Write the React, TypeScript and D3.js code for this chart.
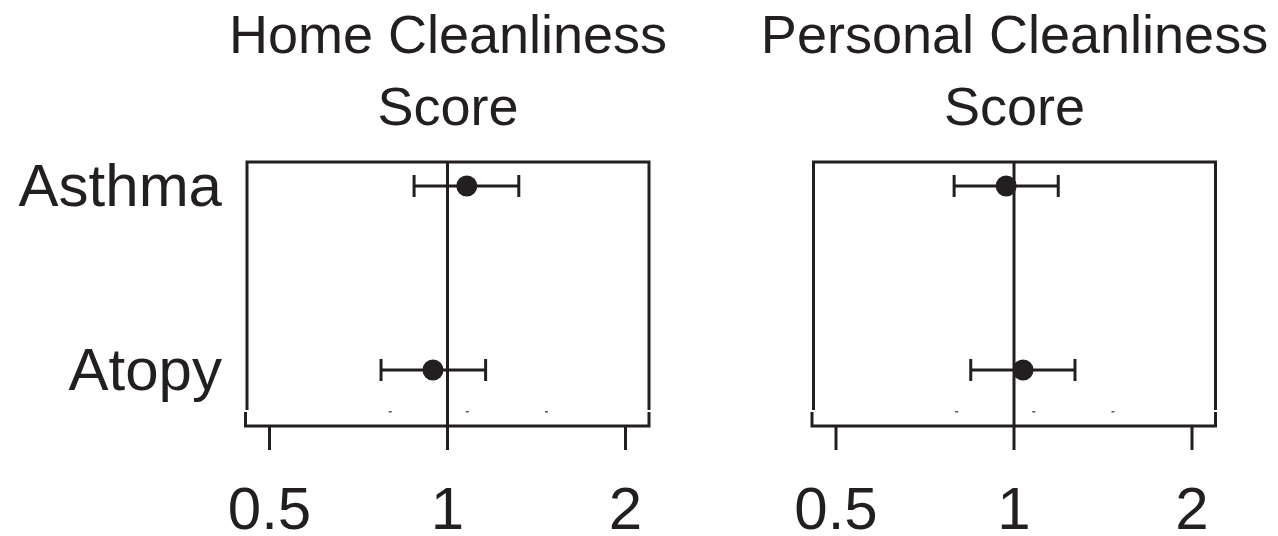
import React from "react";
import * as d3 from "d3";

const outcomes = ["Asthma", "Atopy"];
const panelTitles = [["Home Cleanliness", "Score"], ["Personal Cleanliness", "Score"]];
const homeOR = [1.078, 0.945];
const homeLow = [0.878, 0.772];
const homeHigh = [1.32, 1.16];
const personalOR = [0.97, 1.036];
const personalLow = [0.792, 0.845];
const personalHigh = [1.188, 1.268];
const tickValues = [0.5, 1, 2];
const tickLabels = ["0.5", "1", "2"];
const minorMarks = [0.8, 1.08, 1.47];

const INK = "#231f20";
const FONT = "'Liberation Sans', Arial, Helvetica, sans-serif";

type PanelProps = {
  left: number;
  title: string[];
  est: number[];
  lo: number[];
  hi: number[];
};

function Panel({ left, title, est, lo, hi }: PanelProps) {
  const width = 402;
  const top = 162;
  const sideBottom = 410;
  const axisY = 426;
  const x = d3.scaleLog().domain([0.5, 2]).range([left + 22.5, left + 378.5]);
  const y = d3.scalePoint<string>().domain(outcomes).range([186, 370]);
  const cx = left + width / 2;
  const cap = 11;
  return (
    <g>
      <text x={cx} y={52.5} textAnchor="middle" fontFamily={FONT} fontSize={54} fill={INK}>
        {title[0]}
      </text>
      <text x={cx} y={124.5} textAnchor="middle" fontFamily={FONT} fontSize={54} fill={INK}>
        {title[1]}
      </text>
      <path
        d={`M${left},${sideBottom} V${top} H${left + width} V${sideBottom}`}
        fill="none"
        stroke={INK}
        strokeWidth={3}
      />
      <path
        d={`M${left - 1.5},${axisY - 14} V${axisY} H${left + width} V${axisY - 14}`}
        fill="none"
        stroke={INK}
        strokeWidth={3}
      />
      {minorMarks.map((m, i) => (
        <rect key={i} x={x(m) - 1.5} y={411} width={3} height={1.5} fill="#555" />
      ))}
      <line x1={x(1)} x2={x(1)} y1={top} y2={axisY} stroke={INK} strokeWidth={3} />
      {tickValues.map((t, i) => (
        <g key={t}>
          <line x1={x(t)} x2={x(t)} y1={axisY} y2={450} stroke={INK} strokeWidth={3} />
          <text x={x(t)} y={529} textAnchor="middle" fontFamily={FONT} fontSize={60} fill={INK}>
            {tickLabels[i]}
          </text>
        </g>
      ))}
      {outcomes.map((o, i) => {
        const yy = y(o) as number;
        return (
          <g key={o}>
            <line x1={x(lo[i])} x2={x(hi[i])} y1={yy} y2={yy} stroke={INK} strokeWidth={3} />
            <line x1={x(lo[i])} x2={x(lo[i])} y1={yy - cap} y2={yy + cap} stroke={INK} strokeWidth={3} />
            <line x1={x(hi[i])} x2={x(hi[i])} y1={yy - cap} y2={yy + cap} stroke={INK} strokeWidth={3} />
            <circle cx={x(est[i])} cy={yy} r={10.5} fill={INK} />
          </g>
        );
      })}
    </g>
  );
}

export default function App() {
  const y = d3.scalePoint<string>().domain(outcomes).range([186, 370]);
  return (
    <svg
      width={1278}
      height={536}
      style={{ position: "absolute", left: 0, top: 0, background: "#fff" }}
    >
      <rect width={1278} height={536} fill="#fff" />
      {outcomes.map((o) => (
        <text
          key={o}
          x={222}
          y={(y(o) as number) + 19.5}
          textAnchor="end"
          fontFamily={FONT}
          fontSize={60}
          fill={INK}
        >
          {o}
        </text>
      ))}
      <Panel left={247} title={panelTitles[0]} est={homeOR} lo={homeLow} hi={homeHigh} />
      <Panel left={813.5} title={panelTitles[1]} est={personalOR} lo={personalLow} hi={personalHigh} />
    </svg>
  );
}
